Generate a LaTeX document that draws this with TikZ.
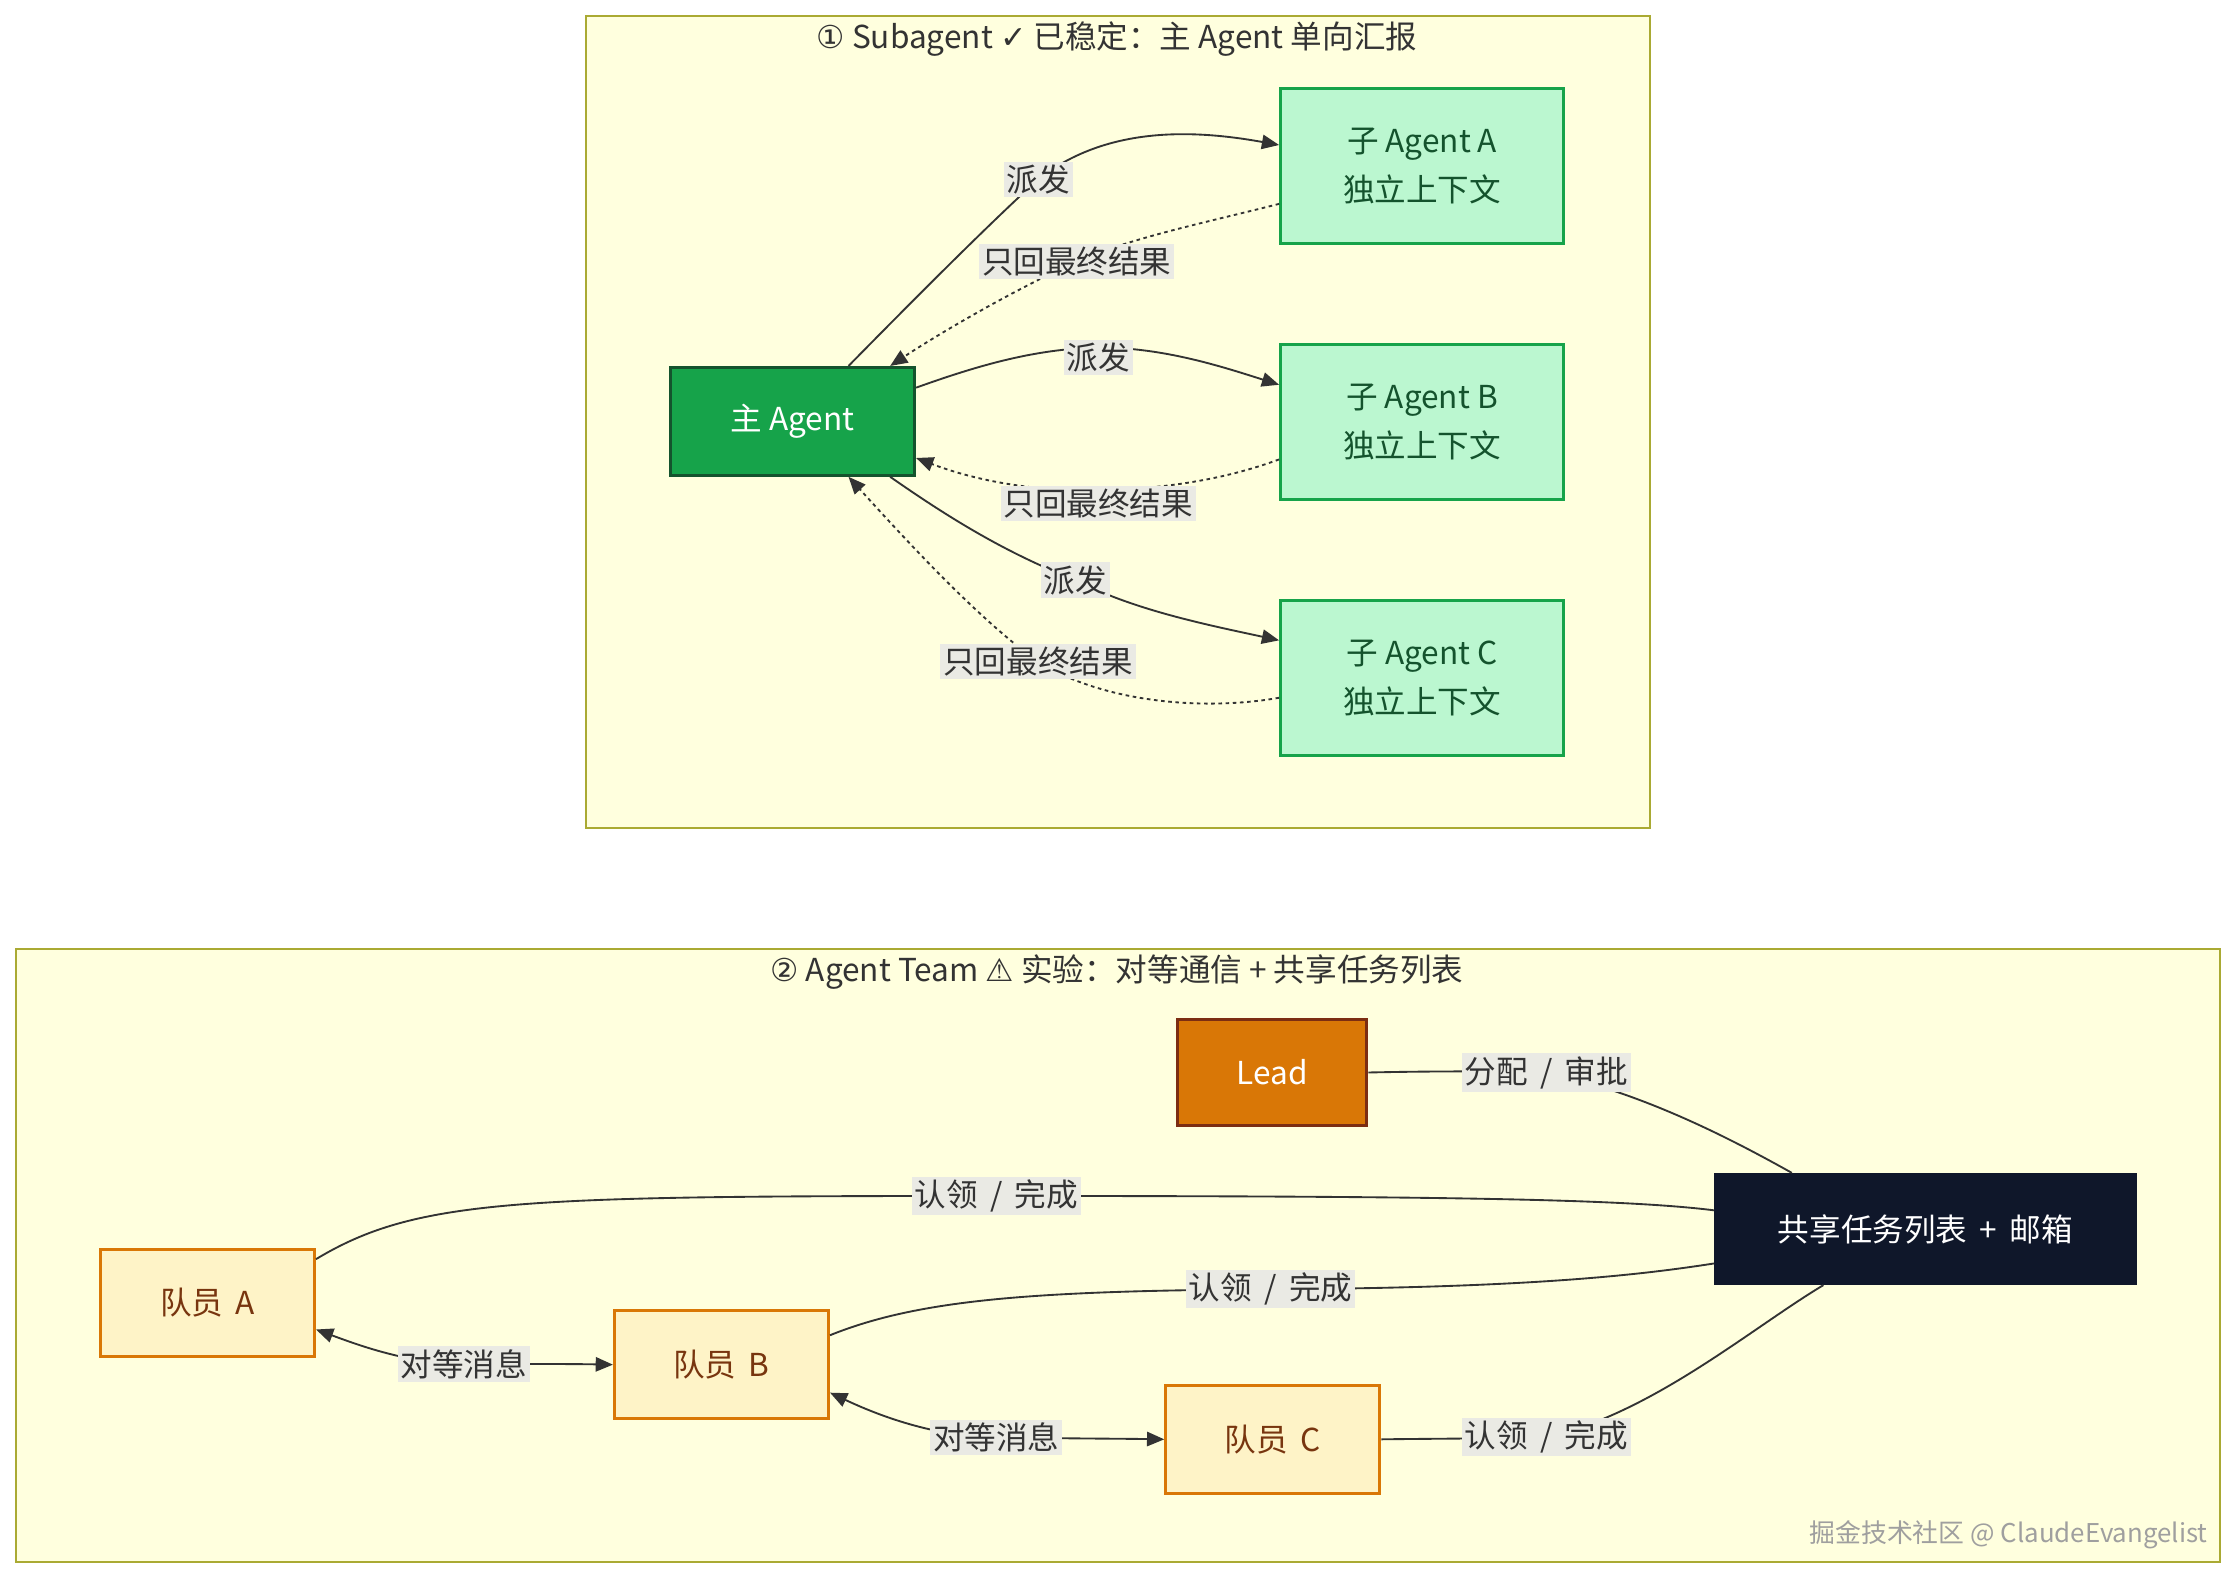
\documentclass[tikz,border=0pt]{standalone}
\usepackage{fontspec}
\setmainfont{Noto Sans CJK SC}
\newfontfamily\symfont{DejaVu Sans}
\usetikzlibrary{arrows.meta}
\definecolor{clusterfill}{HTML}{FFFFDE}
\definecolor{clusterline}{HTML}{AAAA33}
\definecolor{mainfill}{HTML}{16A34A}
\definecolor{mainline}{HTML}{14532D}
\definecolor{subfill}{HTML}{BBF7D0}
\definecolor{subline}{HTML}{16A34A}
\definecolor{subtext}{HTML}{14532D}
\definecolor{leadfill}{HTML}{D97706}
\definecolor{leadline}{HTML}{7C2D12}
\definecolor{hubfill}{HTML}{0F172A}
\definecolor{memfill}{HTML}{FEF3C7}
\definecolor{memline}{HTML}{D97706}
\definecolor{memtext}{HTML}{78350F}
\definecolor{lblbg}{HTML}{EAEAE4}
\definecolor{edge}{HTML}{333333}
\begin{document}
\begin{tikzpicture}[x=1pt,y=-1pt,
    box/.style={draw, line width=2.2pt, inner sep=0pt, align=center,
        font=\fontsize{22}{34}\selectfont},
    lbl/.style={fill=lblbg, inner sep=2pt, text=edge,
        font=\fontsize{22}{26}\selectfont},
    link/.style={draw=edge, line width=1.3pt},
    arrowed/.style={-{Triangle[length=12pt,width=10pt]}},
    twoway/.style={{Triangle[length=12pt,width=10pt]}-{Triangle[length=12pt,width=10pt]}},
    backdash/.style={dash pattern=on 2.5pt off 2.5pt}]
    \fill[white] (0,0) rectangle (1556,1099);
    \useasboundingbox (0,0) rectangle (1556,1099);

    % cluster 1
    \draw[clusterline, fill=clusterfill, line width=1.3pt] (408,11) rectangle (1149,577);
    \node[font=\fontsize{22}{26}\selectfont, text=edge] (t1) at (778,27)
        {{\symfont ①} Subagent {\symfont ✓} 已稳定：主 Agent 单向汇报};
    \node[box, draw=mainline, fill=mainfill, text=white,
        minimum width=170pt, minimum height=75pt] (main) at (552,293.5) {主 Agent};
    \foreach \n/\y/\t in {sa/115.5/A, sb/294/B, sc/472/C}{
        \node[box, draw=subline, fill=subfill, text=subtext,
            minimum width=197pt, minimum height=108pt] (\n) at (990.5,\y)
            {子 Agent \t\\独立上下文};
    };

    \draw[link, arrowed] ([xshift=39pt]main.north) .. controls (640,205) and (690,155)
        .. (723,125) node[lbl] (d1) {派发} .. controls (770,88) and (830,90) .. ([yshift=14.5pt]sa.west);
    \draw[link, arrowed, backdash] ([yshift=-26.5pt]sa.west) .. controls (840,155) and (790,165)
        .. (750,182) node[lbl] (r1) {只回最终结果} .. controls (700,205) and (650,235) .. ([xshift=68pt]main.north);
    \draw[link, arrowed] ([yshift=23.5pt]main.east) .. controls (680,255) and (720,243)
        .. (765,242) node[lbl, yshift=-7pt] (d2) {派发} .. controls (810,242) and (850,255) .. ([yshift=26pt]sb.west);
    \draw[link, arrowed, backdash] ([yshift=-26pt]sb.west) .. controls (850,335) and (810,340)
        .. (765,342) node[lbl, yshift=-9pt] (r2) {只回最终结果} .. controls (720,342) and (680,335) .. ([yshift=-25.5pt]main.east);
    \draw[link, arrowed] ([xshift=68pt]main.south) .. controls (660,360) and (700,385)
        .. (749,404) node[lbl] (d3) {派发} .. controls (790,425) and (840,435) .. ([yshift=26pt]sc.west);
    \draw[link, arrowed, backdash] ([yshift=-14pt]sc.west) .. controls (840,495) and (770,490)
        .. (723,461) node[lbl] (r3) {只回最终结果} .. controls (680,430) and (630,375) .. ([xshift=39pt]main.south);

    % cluster 2
    \draw[clusterline, fill=clusterfill, line width=1.3pt] (11,661) rectangle (1546,1088);
    \node[font=\fontsize{22}{26}\selectfont, text=edge] (t2) at (778,677)
        {{\symfont ②} Agent Team {\symfont ⚠} 实验：对等通信 + 共享任务列表};
    \node[box, draw=leadline, fill=leadfill, text=white,
        minimum width=132pt, minimum height=74pt] (lead) at (886,747) {Lead};
    \node[box, draw=hubfill, fill=hubfill, text=white,
        minimum width=292pt, minimum height=76pt] (hub) at (1341,856) {共享任务列表 \,+\, 邮箱};
    \foreach \n/\x/\y/\t in {ma/144.5/907.5/A, mb/502.5/950.5/B, mc/886.5/1002.5/C}{
        \node[box, draw=memline, fill=memfill, text=memtext,
            minimum width=149pt, minimum height=75pt] (\n) at (\x,\y) {队员 \,\t};
    };

    \draw[link] (lead.east) .. controls (1000,746) and (1040,746)
        .. (1077,747) node[lbl] (g1) {分配 \,/\, 审批} .. controls (1140,760) and (1200,790) .. ([xshift=-93pt]hub.north);
    \draw[link] ([yshift=30.5pt]ma.east) .. controls (290,835) and (360,833)
        .. (694,833) node[lbl] (c1) {认领 \,/\, 完成} .. controls (1000,833) and (1130,835) .. ([yshift=13pt]hub.west);
    \draw[link] ([yshift=20.5pt]mb.east) .. controls (640,905) and (720,899)
        .. (885,898) node[lbl] (c2) {认领 \,/\, 完成} .. controls (1050,897) and (1130,890) .. ([yshift=-24pt]hub.west);
    \draw[link] (mc.east) .. controls (1000,1002) and (1040,1002)
        .. (1077,1001) node[lbl] (c3) {认领 \,/\, 完成} .. controls (1150,985) and (1220,925) .. ([xshift=-71pt]hub.south);
    \draw[link, twoway] ([yshift=-18.5pt]ma.east) .. controls (250,937) and (285,950)
        .. (323,950) node[lbl] (p1) {对等消息} .. controls (370,950) and (400,950) .. (mb.west);
    \draw[link, twoway] ([yshift=-19.5pt]mb.east) .. controls (610,985) and (650,1001)
        .. (694,1001) node[lbl] (p2) {对等消息} .. controls (740,1002) and (780,1002) .. (mc.west);

    \node[text=gray!75, font=\fontsize{18}{22}\selectfont, anchor=east] (wm) at (1541,1069) {掘金技术社区 @ ClaudeEvangelist};
\end{tikzpicture}
\end{document}
